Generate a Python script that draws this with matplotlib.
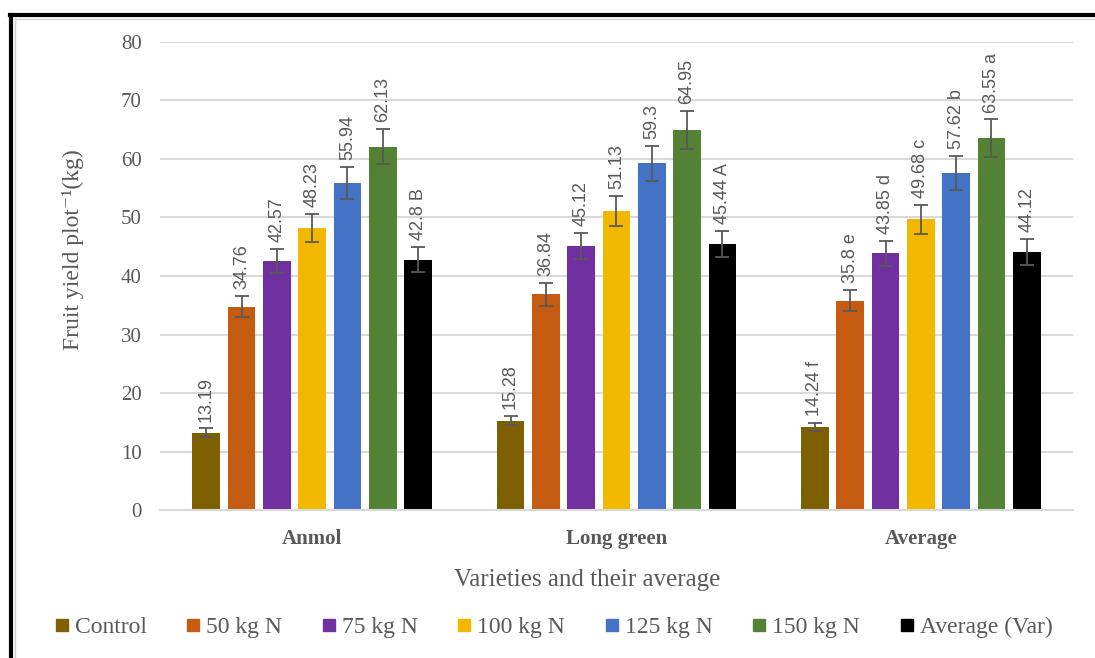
import numpy as np
import matplotlib.pyplot as plt
from matplotlib.lines import Line2D

plt.rcParams['font.family'] = ['Liberation Serif', 'DejaVu Serif']

varieties = ["Anmol", "Long green", "Average"]
treatments = ["Control", "50 kg N", "75 kg N", "100 kg N", "125 kg N", "150 kg N", "Average (Var)"]
colors = ["#7f6000", "#c55a11", "#7030a0", "#f2b800", "#4472c4", "#548235", "#000000"]

# yield per treatment, one list per variety group
anmol = [13.19, 34.76, 42.57, 48.23, 55.94, 62.13, 42.8]
long_green = [15.28, 36.84, 45.12, 51.13, 59.3, 64.95, 45.44]
average = [14.24, 35.8, 43.85, 49.68, 57.62, 63.55, 44.12]

anmol_err = [0.75, 1.85, 2.05, 2.45, 2.75, 3.05, 2.1]
long_green_err = [0.8, 1.95, 2.2, 2.55, 3.0, 3.25, 2.25]
average_err = [0.7, 1.8, 2.2, 2.5, 2.9, 3.2, 2.2]

anmol_tags = ["", "", "", "", "", "", "B"]
long_green_tags = ["", "", "", "", "", "", "A"]
average_tags = ["f", "e", "d", "c", "b", "a", ""]

groups = [anmol, long_green, average]
errs = [anmol_err, long_green_err, average_err]
tags = [anmol_tags, long_green_tags, average_tags]

fig = plt.figure(figsize=(10.95, 6.58), dpi=100)
ax = fig.add_axes([0.1461, 0.2249, 0.8338, 0.7113])

pitch = 0.116
width = 0.091
grey = "#595959"

for j, name in enumerate(treatments):
    x = np.arange(len(varieties)) + (j - 3) * pitch
    vals = [g[j] for g in groups]
    ee = [e[j] for e in errs]
    ax.bar(x, vals, width, color=colors[j], label=name, zorder=2)
    ax.errorbar(x, vals, yerr=ee, fmt="none", ecolor=grey, elinewidth=1.3,
                capsize=4.7, capthick=1.3, zorder=3)
    for xi, v, e, t in zip(x, vals, ee, [tg[j] for tg in tags]):
        lab = f"{v:g}" + (" " + t if t else "")
        ax.annotate(lab, (xi, v + e), xytext=(0, 5), textcoords="offset points",
                    rotation=90, ha="center", va="bottom", fontsize=13,
                    family=["Liberation Sans", "DejaVu Sans"], color=grey,
                    annotation_clip=False)

ax.set_xlim(-0.5, 2.5)
ax.set_ylim(0, 80)
ax.set_yticks(range(0, 81, 10))
ax.yaxis.grid(True, color="#d9d9d9", linewidth=1.5, zorder=0)
ax.set_axisbelow(True)
for s in ["top", "right", "left"]:
    ax.spines[s].set_visible(False)
ax.spines["bottom"].set_color("#d9d9d9")
ax.spines["bottom"].set_linewidth(1.5)
ax.tick_params(length=0)
ax.tick_params(axis="y", labelsize=15, labelcolor=grey, pad=13)
ax.set_xticks(range(len(varieties)))
ax.set_xticklabels(varieties, fontsize=15, fontweight="bold", color=grey)
ax.tick_params(axis="x", pad=14)

ax.set_ylabel("Fruit yield plot\u207b\u00b9(kg)", fontsize=17, color=grey)
ax.yaxis.set_label_coords(-0.083, 0.556)
fig.text(0.536, 0.118, "Varieties and their average", fontsize=18, color=grey,
         ha="center", va="center")

handles = [Line2D([], [], marker="s", linestyle="none", markersize=8.5,
                  markerfacecolor=c, markeredgecolor=c) for c in colors]
fig.legend(handles, treatments, loc="center", bbox_to_anchor=(0.505, 0.046),
           ncol=7, frameon=False, fontsize=17, labelcolor=grey,
           handlelength=0.7, handletextpad=0.2, columnspacing=1.63)

# frame along the left and top edges
fig.add_artist(Line2D([11 / 1095, 11 / 1095], [0, 1 - 15 / 658], color="black",
                      linewidth=3, transform=fig.transFigure))
fig.add_artist(Line2D([9.5 / 1095, 1], [1 - 15 / 658, 1 - 15 / 658], color="black",
                      linewidth=3, transform=fig.transFigure))
fig.add_artist(Line2D([14.5 / 1095, 14.5 / 1095], [0, 1 - 18 / 658], color="#d0d0d0",
                      linewidth=1, transform=fig.transFigure))
fig.add_artist(Line2D([14.5 / 1095, 1], [1 - 18.5 / 658, 1 - 18.5 / 658], color="#d0d0d0",
                      linewidth=1, transform=fig.transFigure))

fig.savefig("out.png", dpi=100)
